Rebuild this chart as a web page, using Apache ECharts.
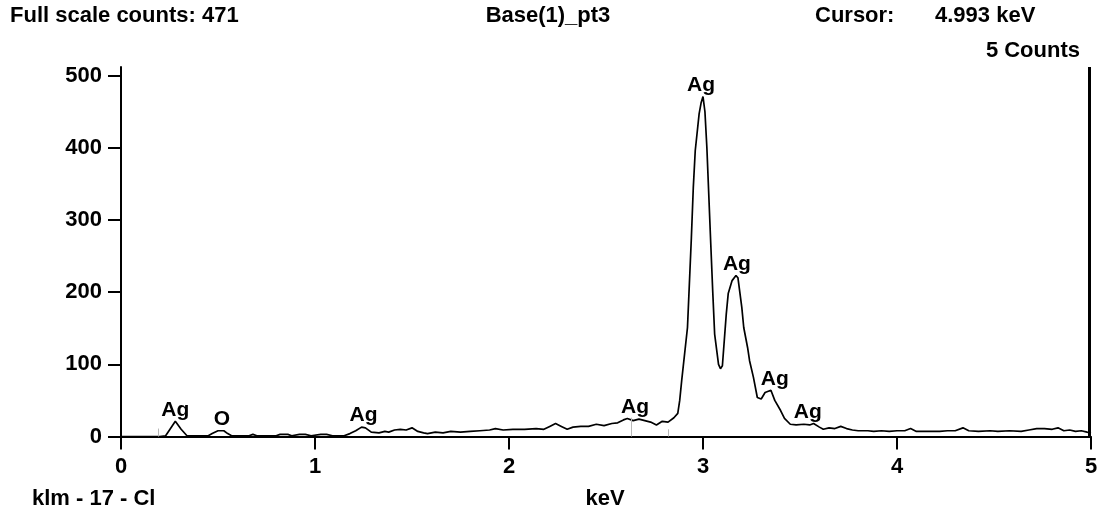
<!DOCTYPE html>
<html>
<head>
<meta charset="utf-8">
<title>Base(1)_pt3</title>
<script src="https://cdn.jsdelivr.net/npm/echarts@6/dist/echarts.min.js"></script>
<style>
  html, body { margin: 0; padding: 0; background: #fff; }
  #chart { width: 1102px; height: 517px; }
</style>
</head>
<body>
<div id="chart"></div>
<script>
// EDS spectrum, energy (keV) against counts
const energyKeV = [
  0.00, 0.10, 0.20, 0.23, 0.25, 0.28, 0.31, 0.34, 0.40, 0.45,
  0.47, 0.50, 0.53, 0.55, 0.57, 0.66, 0.68, 0.70, 0.80, 0.82,
  0.86, 0.88, 0.92, 0.95, 0.98, 1.03, 1.06, 1.09, 1.15, 1.18,
  1.21, 1.24, 1.26, 1.29, 1.33, 1.36, 1.38, 1.41, 1.44, 1.47,
  1.50, 1.53, 1.56, 1.58, 1.62, 1.66, 1.70, 1.75, 1.80, 1.85,
  1.90, 1.93, 1.97, 2.02, 2.08, 2.14, 2.18, 2.21, 2.24, 2.27,
  2.30, 2.33, 2.37, 2.41, 2.45, 2.49, 2.53, 2.56, 2.59, 2.61,
  2.64, 2.67, 2.70, 2.73, 2.76, 2.79, 2.82, 2.85, 2.87, 2.88,
  2.89, 2.92, 2.94, 2.95, 2.96, 2.98, 2.99, 3.00, 3.01, 3.02,
  3.04, 3.05, 3.06, 3.08, 3.09, 3.10, 3.12, 3.13, 3.15, 3.17,
  3.18, 3.20, 3.21, 3.23, 3.24, 3.26, 3.28, 3.30, 3.32, 3.35,
  3.37, 3.40, 3.42, 3.45, 3.48, 3.52, 3.55, 3.57, 3.60, 3.62,
  3.65, 3.68, 3.71, 3.74, 3.77, 3.80, 3.85, 3.88, 3.92, 3.96,
  4.00, 4.04, 4.07, 4.10, 4.16, 4.22, 4.26, 4.30, 4.34, 4.37,
  4.42, 4.48, 4.52, 4.58, 4.64, 4.68, 4.72, 4.76, 4.80, 4.83,
  4.86, 4.89, 4.92, 4.95, 4.98, 5.00
];
const counts = [
  0, 0, 0, 1, 9, 21, 10, 1, 1, 1,
  4, 8, 8, 4, 1, 1, 3, 1, 1, 3,
  3, 1, 3, 3, 1, 3, 3, 1, 1, 4,
  8, 13, 12, 6, 5, 7, 6, 9, 10, 9,
  12, 7, 5, 4, 6, 5, 7, 6, 7, 8,
  9, 11, 9, 10, 10, 11, 10, 14, 18, 14,
  10, 13, 14, 14, 17, 15, 18, 19, 23, 25,
  22, 24, 22, 20, 16, 21, 20, 26, 32, 50,
  77, 151, 275, 345, 396, 447, 462, 471, 450, 400,
  267, 202, 142, 100, 94, 98, 170, 198, 216, 223,
  220, 179, 151, 123, 105, 82, 54, 52, 61, 64,
  50, 36, 25, 17, 16, 17, 16, 18, 13, 10,
  12, 11, 14, 11, 9, 8, 8, 7, 8, 7,
  8, 8, 11, 7, 7, 7, 8, 8, 12, 8,
  7, 8, 7, 8, 7, 9, 11, 11, 10, 12,
  8, 9, 7, 8, 6, 5
];

// Element identifications: line energy and local count level
const peakNames = ['Ag', 'O', 'Ag', 'Ag', 'Ag', 'Ag', 'Ag', 'Ag'];
const peakKeV = [0.28, 0.52, 1.25, 2.65, 2.99, 3.175, 3.37, 3.54];
const peakCounts = [21, 8, 13, 25, 471, 223, 63, 18];

// KLM marker lines
const markerKeV = [0.19, 2.63, 2.82];
const markerCounts = [11, 26, 10];

// Axis ticks
const xTicks = [0, 1, 2, 3, 4, 5];
const yTicks = [0, 100, 200, 300, 400, 500];

// Cursor readout
const cursorKeV = 4.993;
const cursorCounts = 5;
const sampleName = 'Base(1)_pt3';
const footerLeft = 'klm - 17 - Cl';
const xAxisName = 'keV';

const FONT = '"Liberation Sans", Arial, sans-serif';
const fullScale = Math.max.apply(null, counts);
const spectrum = energyKeV.map((e, i) => [e, counts[i]]);
const peakPoints = peakKeV.map((e, i) => ({ value: [e, peakCounts[i]], name: peakNames[i] }));
const markerLines = markerKeV.map((e, i) => [{ coord: [e, 0] }, { coord: [e, markerCounts[i]] }]);

const chart = echarts.init(document.getElementById('chart'), null, { renderer: 'canvas' });

const textStyle = (extra) => Object.assign({
  fill: '#000',
  font: 'bold 22px ' + FONT
}, extra);

chart.setOption({
  animation: false,
  backgroundColor: '#fff',
  textStyle: { fontFamily: FONT },
  grid: { left: 121, right: 11, top: 67, bottom: 80.5, containLabel: false },
  xAxis: {
    type: 'value',
    min: 0,
    max: 5,
    interval: 1,
    axisLine: { show: true, lineStyle: { color: '#000', width: 2 } },
    axisTick: { show: true, length: 13, lineStyle: { color: '#000', width: 2 }, customValues: xTicks },
    axisLabel: { margin: 19, color: '#000', fontSize: 22, fontWeight: 'bold', fontFamily: FONT, customValues: xTicks },
    splitLine: { show: false }
  },
  yAxis: {
    type: 'value',
    min: 0,
    max: 512,
    axisLine: { show: true, lineStyle: { color: '#000', width: 2 } },
    axisTick: { show: true, length: 13, lineStyle: { color: '#000', width: 2 }, customValues: yTicks },
    axisLabel: { margin: 19, color: '#000', fontSize: 22, fontWeight: 'bold', fontFamily: FONT, customValues: yTicks },
    splitLine: { show: false }
  },
  series: [
    {
      type: 'line',
      data: spectrum,
      showSymbol: false,
      smooth: false,
      lineStyle: { color: '#000', width: 1.7 },
      z: 3,
      markLine: {
        silent: true,
        symbol: ['none', 'none'],
        label: { show: false },
        lineStyle: { color: '#b8b8b8', width: 1, type: 'solid' },
        data: markerLines.concat([
          [{ coord: [cursorKeV, 0], lineStyle: { color: '#000', width: 3 } },
           { coord: [cursorKeV, 512], lineStyle: { color: '#000', width: 3 } }]
        ])
      }
    },
    {
      type: 'scatter',
      data: peakPoints,
      symbolSize: 0,
      itemStyle: { opacity: 1, color: '#000' },
      z: 4,
      label: {
        show: true,
        position: 'top',
        distance: 1,
        formatter: (p) => p.name,
        color: '#000',
        opacity: 1,
        fontSize: 21,
        fontWeight: 'bold',
        fontFamily: FONT
      },
      emphasis: { disabled: true }
    }
  ],
  graphic: [
    { type: 'text', style: textStyle({ text: 'Full scale counts: ' + fullScale, x: 10, y: 16, align: 'left', verticalAlign: 'middle' }) },
    { type: 'text', style: textStyle({ text: sampleName, x: 548, y: 16, align: 'center', verticalAlign: 'middle' }) },
    { type: 'text', style: textStyle({ text: 'Cursor:', x: 815, y: 16, align: 'left', verticalAlign: 'middle' }) },
    { type: 'text', style: textStyle({ text: cursorKeV.toFixed(3) + ' keV', x: 935, y: 16, align: 'left', verticalAlign: 'middle' }) },
    { type: 'text', style: textStyle({ text: cursorCounts + ' Counts', x: 1080, y: 51, align: 'right', verticalAlign: 'middle' }) },
    { type: 'text', style: textStyle({ text: footerLeft, x: 32, y: 499, align: 'left', verticalAlign: 'middle' }) },
    { type: 'text', style: textStyle({ text: xAxisName, x: 605, y: 499, align: 'center', verticalAlign: 'middle' }) }
  ]
});
</script>
</body>
</html>
